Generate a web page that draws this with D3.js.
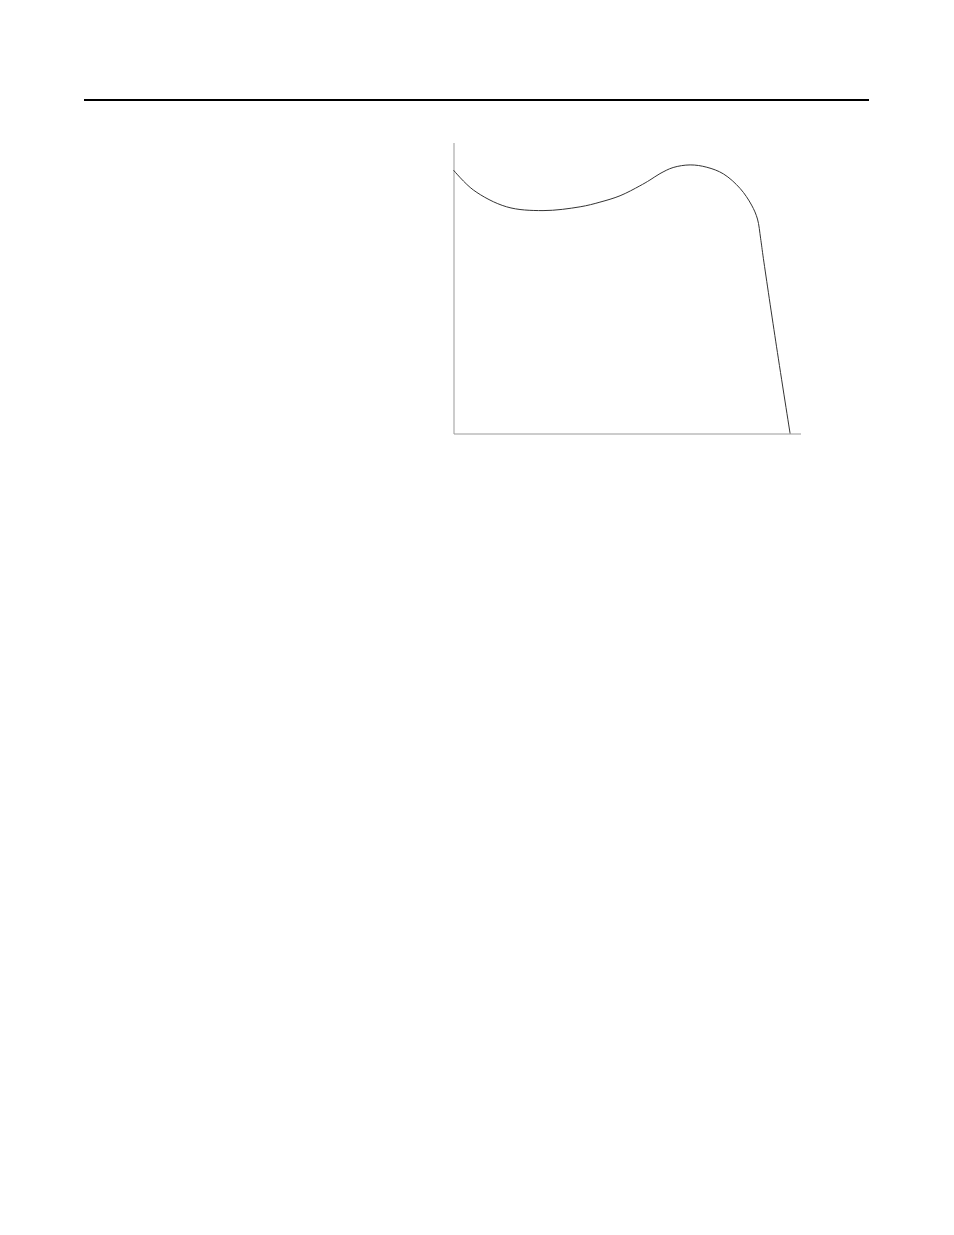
<!DOCTYPE html>
<html>
<head>
<meta charset="utf-8">
<script src="https://cdn.jsdelivr.net/npm/d3@7"></script>
<style>
  html, body { margin: 0; padding: 0; background: #fff; }
</style>
</head>
<body>
<div class="container"></div>
<script>
// curve, in axis units (0-100 on both axes)
const xValues = [0, 5.7, 15.3, 25.8, 36.5, 42.2, 48.0, 53.7, 56.6, 59.5, 63.3, 68.2, 73.0, 77.8, 82.6, 85.9, 87.6, 88.5, 89.3, 93.1, 97.0];
const yValues = [90.5, 83.7, 77.9, 76.6, 77.9, 79.5, 81.7, 85.1, 87.1, 89.3, 91.4, 92.3, 91.5, 89.2, 84.2, 78.5, 73.7, 67.1, 60.2, 29.8, 0];

const width = 954, height = 1235;

const svg = d3.select('.container')
  .append('svg')
  .attr('width', width)
  .attr('height', height);

// page rule at the top
svg.append('line')
  .attr('x1', 84).attr('x2', 869)
  .attr('y1', 100).attr('y2', 100)
  .attr('stroke', '#000')
  .attr('stroke-width', 2);

const x = d3.scaleLinear().domain([0, 100]).range([453.5, 800.5]);
const y = d3.scaleLinear().domain([0, 100]).range([433.5, 142.5]);

// axes: just the lines, no ticks or labels
svg.append('g')
  .attr('transform', `translate(0,${y(0)})`)
  .call(d3.axisBottom(x).tickValues([]).tickSizeOuter(0));
svg.append('g')
  .attr('transform', `translate(${x(0)},0)`)
  .call(d3.axisLeft(y).tickValues([]).tickSizeOuter(0));
svg.selectAll('.domain')
  .attr('stroke', '#999')
  .attr('stroke-width', 1);

const points = xValues.map((v, i) => [v, yValues[i]]);

const line = d3.line()
  .x(d => x(d[0]))
  .y(d => y(d[1]))
  .curve(d3.curveCatmullRom.alpha(0.5));

svg.append('path')
  .datum(points)
  .attr('d', line)
  .attr('fill', 'none')
  .attr('stroke', '#333')
  .attr('stroke-width', 1);
</script>
</body>
</html>
